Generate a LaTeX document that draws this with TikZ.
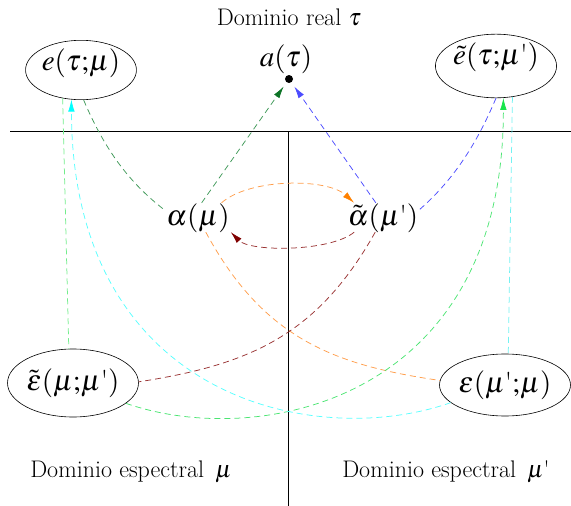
\documentclass[tikz,border=0pt]{standalone}
\usepackage{mathptmx}
\usetikzlibrary{shapes.geometric,arrows.meta}
\definecolor{dgreen}{rgb}{0.25,0.6,0.35}
\definecolor{dgreentip}{rgb}{0.05,0.45,0.15}
\definecolor{lblue}{rgb}{0.3,0.3,1}
\definecolor{lorange}{rgb}{1,0.62,0.3}
\definecolor{orangetip}{rgb}{1,0.5,0}
\definecolor{lmaroon}{rgb}{0.6,0.2,0.2}
\definecolor{maroontip}{rgb}{0.5,0,0}
\definecolor{bgreen}{rgb}{0.3,0.9,0.45}
\definecolor{bgreentip}{rgb}{0.1,0.9,0.3}
\definecolor{lcyan}{rgb}{0.35,1,1}
\definecolor{cyantip}{rgb}{0,1,1}
\definecolor{pgreen}{rgb}{0.45,0.93,0.55}
\definecolor{pcyan}{rgb}{0.45,0.95,0.95}
\newcommand\lblfont{\fontsize{29}{32}\selectfont}
\newcommand\txtfont{\fontsize{24}{28}\selectfont}
\newcommand\qs{\mbox{\textquotesingle}}
\begin{document}
\begin{tikzpicture}[x=1pt,y=-1pt,
  ell/.style={draw, ellipse, line width=0.6pt, inner sep=0pt, minimum width=106pt, font=\lblfont, text height=21pt},
  lbl/.style={inner sep=1pt, font=\lblfont, text height=21pt, text depth=6pt},
  txt/.style={inner sep=0pt, font=\txtfont, anchor=base},
  dsh/.style={dash pattern=on 6pt off 4pt, line width=0.75pt},
  tipc/.style={-{Latex[length=12pt,width=6.5pt,color=#1]}}
]
\useasboundingbox (0,0) rectangle (571,506);
% axes
\coordinate (hl) at (10,131);
\coordinate (hr) at (571,131);
\coordinate (vt) at (288,131);
\coordinate (vb) at (288,506);
\draw[line width=0.8pt] (hl) -- (hr);
\draw[line width=0.8pt] (vt) -- (vb);
% texts
\node[txt] (title) at (289,25) {Dominio real $\tau$};
\node[txt] (dmu) at (131,477) {Dominio espectral\, $\mu$};
\node[txt] (dmup) at (446,477) {Dominio espectral\, $\mu$\qs};
% nodes
\node[lbl] (a) at (286,59) {$a(\tau)$};
\node[circle, fill, minimum size=8pt, inner sep=0pt] (dot) at (289,79) {};
\node[ell, minimum height=54pt, text depth=21pt] (e) at (81,70) {$e(\tau{;}\mu)$};
\node[ell, minimum height=61pt, text depth=24pt] (et) at (496,66) {$\tilde{e}(\tau{;}\mu\qs)$};
\node[lbl] (al) at (198,217.5) {$\alpha(\mu)$};
\node[lbl] (alt) at (383,217.5) {$\tilde{\alpha}(\mu\qs)$};
\node[ell, minimum height=68pt, text depth=6pt] (ept) at (73,383) {$\tilde{\varepsilon}(\mu{;}\mu\qs)$};
\node[ell, minimum height=62pt, text depth=6pt] (ep) at (505,385) {$\varepsilon(\mu\qs{;}\mu)$};
% connectors
\draw[dsh, dgreen] (e.-85) .. controls (104,148) and (128,182) .. (al.168);
\draw[dsh, dgreen, tipc=dgreentip, shorten >=5pt] (al.76) -- (dot);
\draw[dsh, lblue] (et.-90) .. controls (475,148) and (451,182) .. (alt.12);
\draw[dsh, lblue, tipc=lblue, shorten >=5pt] (alt.116) -- (dot);
\draw[dsh, lorange, tipc=orangetip] (al.32) .. controls (250,178) and (327,178) .. (alt.153);
\draw[dsh, lmaroon, tipc=maroontip] (alt.-153) .. controls (330,252) and (250,252) .. (al.-24);
\draw[dsh, lorange] (al.-62) .. controls (263,338) and (333,365) .. (ep.176);
\draw[dsh, lmaroon] (alt.-118) .. controls (316,338) and (246,365) .. (ept.1);
\draw[dsh, bgreen, tipc=bgreentip] (ept.-21) .. controls (260,450) and (504,400) .. (et.-77);
\draw[dsh, lcyan, tipc=cyantip] (ep.198) .. controls (316,450) and (72,400) .. (e.-108);
\draw[dsh, pgreen] (e.-123) -- (ept.97);
\draw[dsh, pcyan] (et.-62) -- (ep.84);
\end{tikzpicture}
\end{document}
